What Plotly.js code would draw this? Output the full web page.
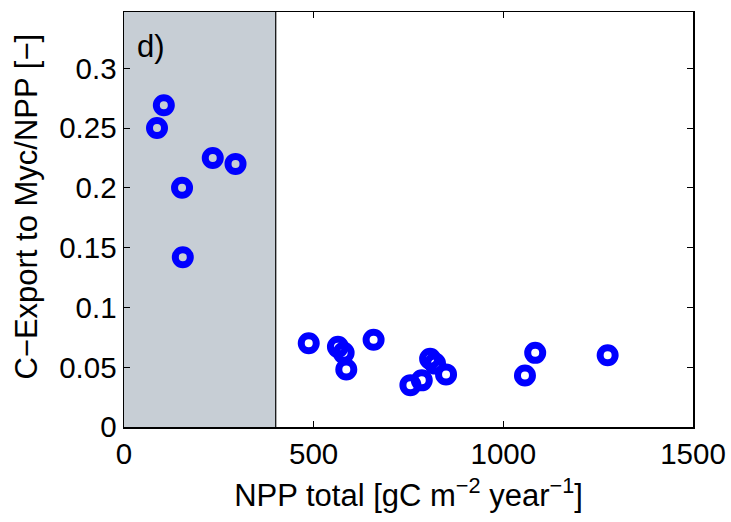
<!DOCTYPE html>
<html>
<head>
<meta charset="utf-8">
<script src="https://cdn.plot.ly/plotly-3.0.1.min.js"></script>
<style>html,body{margin:0;padding:0;background:#fff;}#chart{width:731px;height:522px;}</style>
</head>
<body>
<div id="chart"></div>
<script>
// NPP total [gC m-2 year-1]
const nppTotal = [105, 87, 234, 294, 153, 155,
                  487, 564, 579, 586, 658, 807, 820, 849, 785, 755,
                  1084, 1057, 1275];
// C-Export to Myc / NPP [-]
const exportRatio = [0.269, 0.250, 0.225, 0.220, 0.200, 0.142,
                     0.070, 0.067, 0.062, 0.048, 0.073, 0.057, 0.053, 0.044, 0.039, 0.035,
                     0.062, 0.043, 0.060];
const shadedRange = [0, 400];
const xTicks = [0, 500, 1000, 1500];
const yTicks = [0, 0.05, 0.1, 0.15, 0.2, 0.25, 0.3];
const yTickText = ['0', '0.05', '0.1', '0.15', '0.2', '0.25', '0.3'];

const font = 'Liberation Sans, Arial, Helvetica, sans-serif';
const tickSize = 29.5, titleSize = 31;

const trace = {
  x: nppTotal, y: exportRatio, type: 'scatter', mode: 'markers',
  marker: {symbol: 'circle-open', size: 15, color: '#0000ff', line: {width: 7, color: '#0000ff'}},
  hoverinfo: 'x+y', showlegend: false
};

const layout = {
  width: 731, height: 522,
  margin: {l: 123.5, r: 38, t: 12, b: 95},
  paper_bgcolor: '#ffffff', plot_bgcolor: '#ffffff',
  font: {family: font, size: tickSize, color: '#000'},
  xaxis: {
    range: [0, 1500], tickvals: xTicks, ticktext: xTicks.map(String),
    ticks: 'inside', ticklen: 6, tickwidth: 1, tickcolor: '#000',
    showline: true, linecolor: '#000', linewidth: 1.5, mirror: 'ticks',
    showgrid: false, zeroline: false,
    tickfont: {family: font, size: tickSize, color: '#000'},
    title: {text: 'NPP total [gC m<sup>−2</sup> year<sup>−1</sup>]', font: {family: font, size: titleSize, color: '#000'}, standoff: 15}
  },
  yaxis: {
    range: [0, 0.347], tickvals: yTicks, ticktext: yTickText,
    ticks: 'inside', ticklen: 6, tickwidth: 1, tickcolor: '#000',
    showline: true, linecolor: '#000', linewidth: 1.5, mirror: 'ticks',
    showgrid: false, zeroline: false,
    tickfont: {family: font, size: tickSize, color: '#000'}
  },
  shapes: [{
    type: 'rect', xref: 'x', yref: 'paper', x0: shadedRange[0], x1: shadedRange[1], y0: 0, y1: 1,
    fillcolor: '#c7ced5', line: {width: 0}, layer: 'below'
  }, {
    type: 'line', xref: 'x', yref: 'paper', x0: shadedRange[1], x1: shadedRange[1], y0: 0, y1: 1,
    line: {width: 1.2, color: '#000'}, layer: 'above'
  }],
  annotations: [{
    text: 'd)', xref: 'paper', yref: 'paper', x: 0.02, y: 0.963, xanchor: 'left', yanchor: 'top',
    showarrow: false, font: {family: font, size: titleSize, color: '#000'}
  }, {
    text: 'C−Export to Myc/NPP [−]', xref: 'paper', yref: 'paper', x: -0.173, y: 0.53,
    xanchor: 'center', yanchor: 'middle', textangle: -90,
    showarrow: false, font: {family: font, size: titleSize, color: '#000'}
  }]
};

Plotly.newPlot('chart', [trace], layout, {displayModeBar: false, staticPlot: true});
</script>
</body>
</html>
